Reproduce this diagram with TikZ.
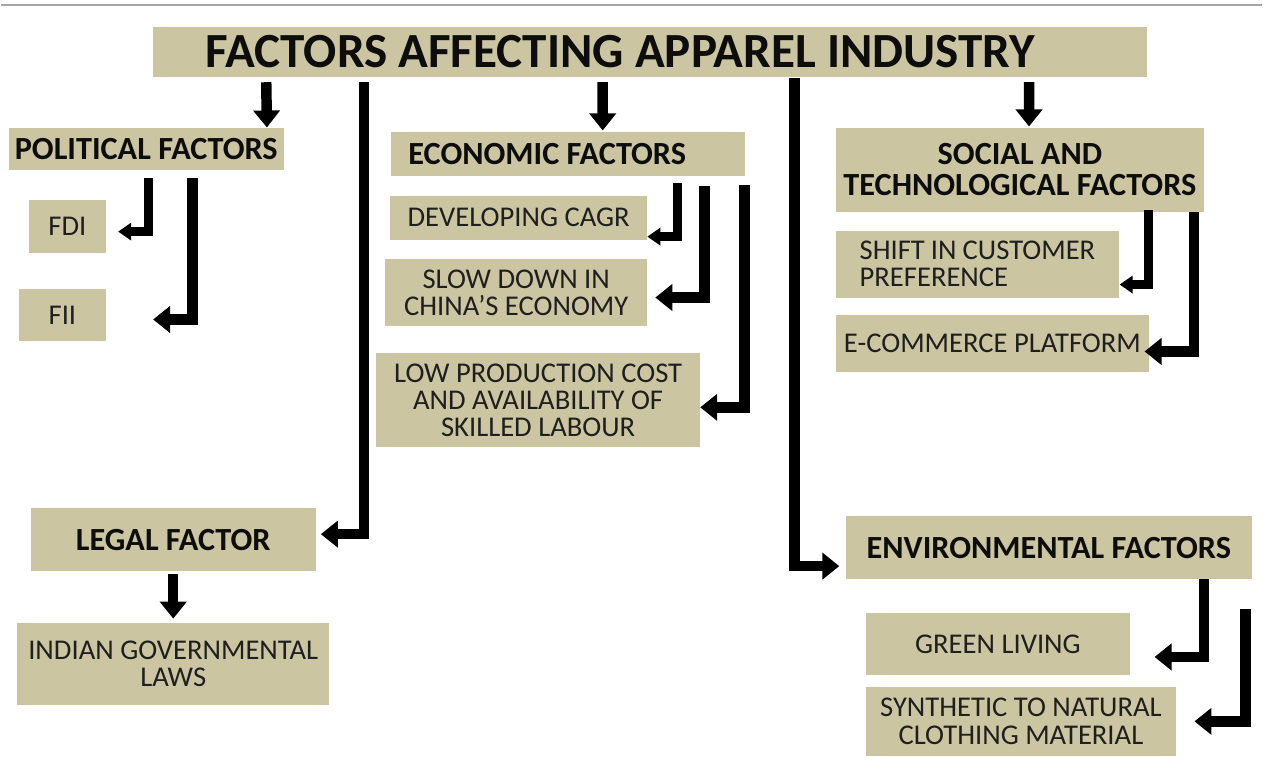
\documentclass[tikz,border=0pt]{standalone}
\usepackage{fontspec}
\setmainfont{Carlito}
\usetikzlibrary{arrows.meta}
\definecolor{khaki}{RGB}{203,198,161}
\newcommand\titlefont{\fontsize{28}{29}\selectfont\bfseries}
\newcommand\hdfont{\fontsize{18.4}{17.5}\selectfont\bfseries}
\newcommand\leaffont{\fontsize{16.3}{15.6}\selectfont}
\begin{document}
\begin{tikzpicture}[
    box/.style={fill=khaki,inner sep=0pt,align=center,text=black!88,font=\leaffont},
    head/.style={box,font=\hdfont,text=black!95},
    conn/.style={line width=0.21cm,-{Triangle[width=0.52cm,length=0.34cm]}},
    thinconn/.style={line width=0.18cm,-{Triangle[width=0.34cm,length=0.26cm]}}]
    \fill[white] (0,0) rectangle (25.26,-15.34);
    \draw[gray!70,line width=0.04cm] (0,-0.1) -- (25.26,-0.1);
    \node[box,font=\titlefont,text=black!95,minimum height=1cm,inner xsep=1.06cm,text width=17.8cm,align=flush left] (title) at (13.0,-1.04) {FACTORS AFFECTING APPAREL INDUSTRY};
    \node[head,minimum width=5.5cm,minimum height=0.84cm] (pol) at (2.91,-2.98) {POLITICAL FACTORS};
    \node[head,minimum height=0.88cm,inner xsep=0.34cm,text width=6.4cm,align=flush left] (eco) at (11.36,-3.08) {ECONOMIC FACTORS};
    \node[head,minimum width=7.38cm,minimum height=1.68cm] (soc) at (20.41,-3.40) {SOCIAL AND\\TECHNOLOGICAL FACTORS};
    \node[box,minimum width=1.54cm,minimum height=1.06cm] (fdi) at (1.33,-4.53) {FDI};
    \node[box,minimum width=1.74cm,minimum height=1.06cm] (fii) at (1.23,-6.31) {FII};
    \node[box,minimum width=5.14cm,minimum height=0.88cm] (cagr) at (10.37,-4.36) {DEVELOPING CAGR};
    \node[box,minimum width=5.24cm,minimum height=1.36cm] (slow) at (10.32,-5.86) {SLOW DOWN IN\\CHINA’S ECONOMY};
    \node[box,minimum width=6.48cm,minimum height=1.88cm] (low) at (10.76,-8.02) {LOW PRODUCTION COST\\AND AVAILABILITY OF\\SKILLED LABOUR};
    \node[box,minimum height=1.34cm,inner xsep=0.48cm,text width=4.72cm,align=flush left] (shift) at (19.56,-5.29) {SHIFT IN CUSTOMER\\PREFERENCE};
    \node[box,minimum width=6.28cm,minimum height=1.16cm] (ecom) at (19.86,-6.88) {E-COMMERCE PLATFORM};
    \node[head,minimum width=5.7cm,minimum height=1.26cm] (legal) at (3.45,-10.81) {LEGAL FACTOR};
    \node[box,minimum width=6.26cm,minimum height=1.64cm] (laws) at (3.45,-13.30) {INDIAN GOVERNMENTAL\\LAWS};
    \node[head,minimum width=8.14cm,minimum height=1.26cm] (env) at (20.99,-10.97) {ENVIRONMENTAL FACTORS};
    \node[box,minimum width=5.3cm,minimum height=1.24cm] (green) at (19.97,-12.90) {GREEN LIVING};
    \node[box,minimum width=6.22cm,minimum height=1.38cm] (synth) at (20.43,-14.45) {SYNTHETIC TO NATURAL\\CLOTHING MATERIAL};
    \draw[conn] ([shift={(2.28cm,-0.1cm)}]title.south west) -- ([xshift=-0.34cm]pol.north east);
    \draw[conn] ([shift={(9.02cm,-0.1cm)}]title.south west) -- ([shift={(4.24cm,0.02cm)}]eco.north west);
    \draw[conn] ([shift={(17.56cm,-0.1cm)}]title.south west) -- ([shift={(3.88cm,0.02cm)}]soc.north west);
    \draw[conn] ([shift={(4.24cm,-0.1cm)}]title.south west) |- ([shift={(0.1cm,0.11cm)}]legal.east);
    \draw[conn] ([shift={(12.86cm,-0.02cm)}]title.south west) |- ([shift={(-0.12cm,-0.37cm)}]env.west);
    \draw[thinconn] ([shift={(2.8cm,-0.16cm)}]pol.south west) |- ([shift={(0.24cm,-0.11cm)}]fdi.east);
    \draw[conn] ([shift={(3.68cm,-0.16cm)}]pol.south west) |- ([shift={(0.94cm,-0.09cm)}]fii.east);
    \draw[thinconn] ([shift={(5.74cm,-0.14cm)}]eco.south west) |- ([yshift=-0.38cm]cagr.east);
    \draw[conn] ([shift={(6.28cm,-0.2cm)}]eco.south west) |- ([shift={(0.16cm,-0.1cm)}]slow.east);
    \draw[conn] ([shift={(7.08cm,-0.18cm)}]eco.south west) |- ([yshift=-0.14cm]low.east);
    \draw[thinconn] ([shift={(6.28cm,0.04cm)}]soc.south west) |- ([yshift=-0.41cm]shift.east);
    \draw[conn] ([xshift=7.18cm]soc.south west) |- ([shift={(-0.1cm,-0.16cm)}]ecom.east);
    \draw[conn] ([yshift=-0.06cm]legal.south) -- ([yshift=0.08cm]laws.north);
    \draw[conn] ([xshift=7.18cm]env.south west) |- ([shift={(0.48cm,-0.26cm)}]green.east);
    \coordinate (envtap) at ([shift={(8.02cm,-0.6cm)}]env.south west);
    \draw[conn] (envtap) |- ([xshift=0.36cm]synth.east);
\end{tikzpicture}
\end{document}
